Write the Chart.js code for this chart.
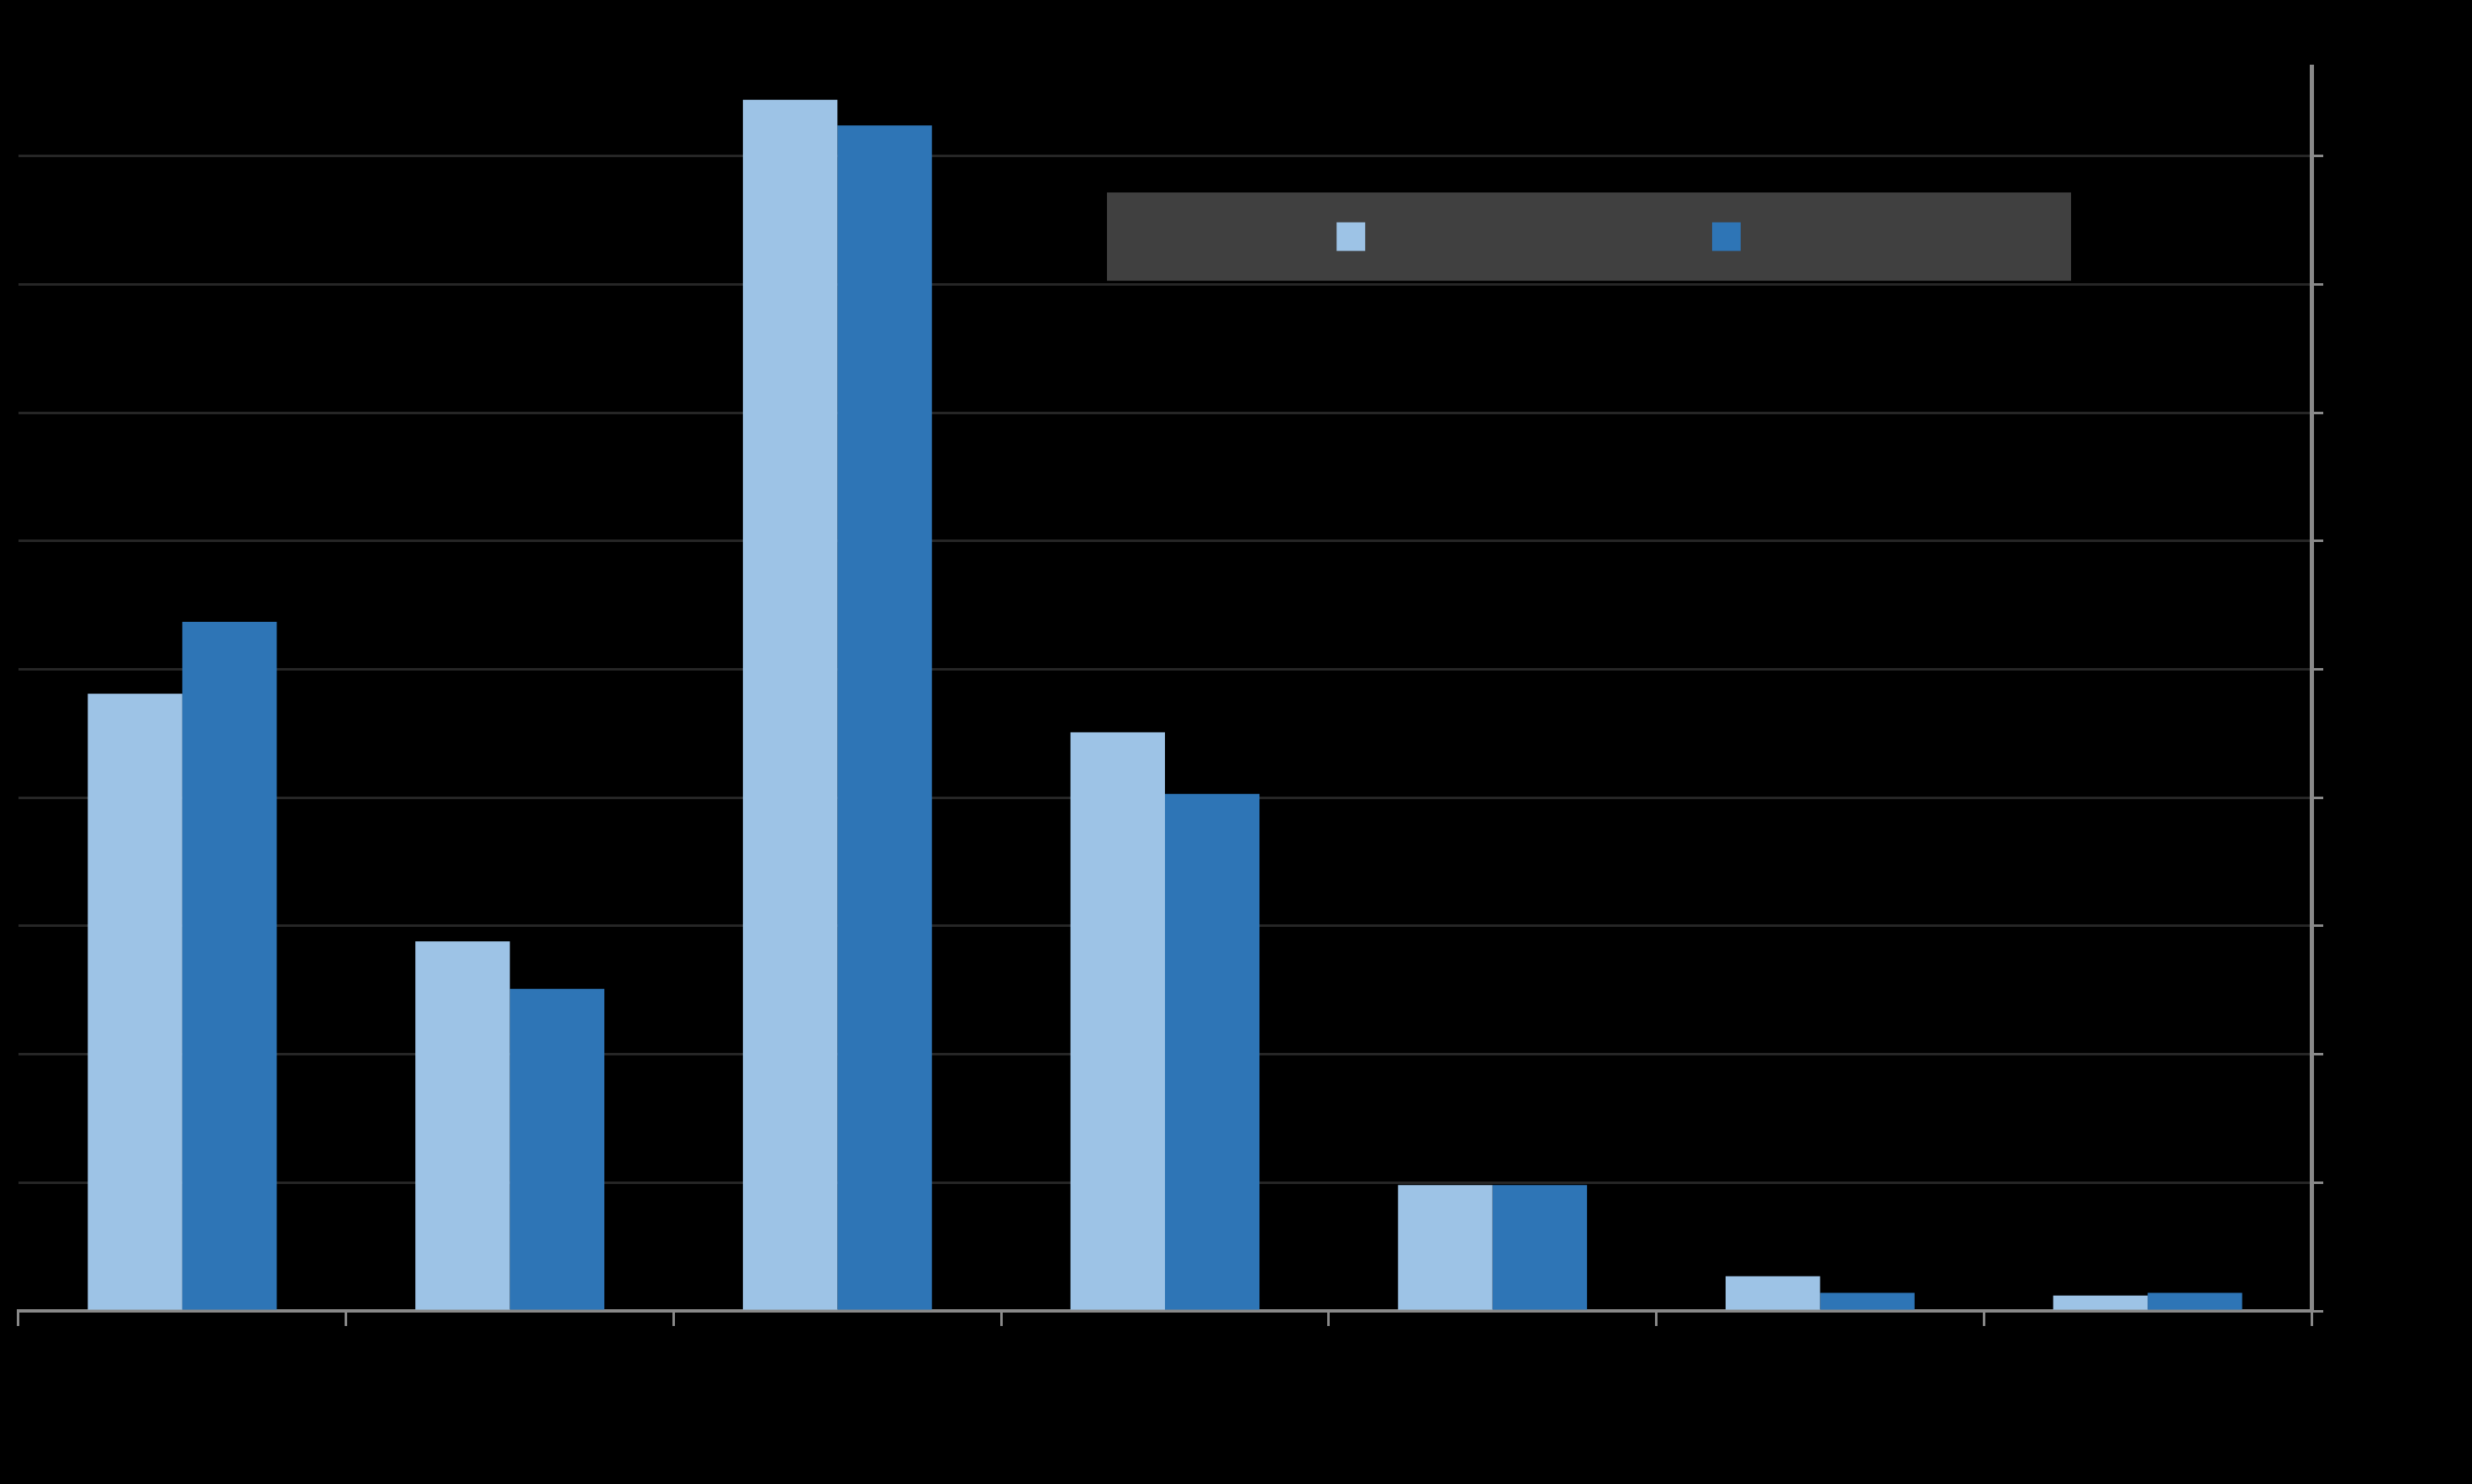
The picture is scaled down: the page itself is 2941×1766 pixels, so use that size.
<!DOCTYPE html>
<html>
<head>
<meta charset="utf-8">
<script src="https://cdn.jsdelivr.net/npm/chart.js@4/dist/chart.umd.min.js"></script>
<style>
  html, body { margin: 0; padding: 0; background: #000000; }
  #wrap { width: 2941px; height: 1766px; position: relative; }
</style>
</head>
<body>
<div id="wrap"><canvas id="myChart"></canvas></div>
<script>
// Werte (keine Beschriftungen sichtbar)
const categories = ["1", "2", "3", "4", "5", "6", "7"];
const seriesNames = ["Series 1", "Series 2"];
const seriesLight = [48.1, 28.8, 94.4, 45.1, 9.8, 2.7, 1.2];
const seriesDark = [53.7, 25.1, 92.4, 40.3, 9.8, 1.4, 1.4];
const yTicks = [0, 10, 20, 30, 40, 50, 60, 70, 80, 90];
const yMax = 97;

const axisGray = "#898989";
const gridGray = "#262626";

// Legende als Kasten im Diagramm
const boxLegend = {
    id: "boxLegend",
    afterDatasetsDraw(chart) {
        const ctx = chart.ctx;
        const w = chart.width;
        const h = chart.height;
        ctx.save();
        ctx.fillStyle = "#404040";
        ctx.fillRect(w * 0.4478, h * 0.1297, w * 0.39, h * 0.0595);
        const sw = 34;
        const ys = h * 0.1297 + (h * 0.0595 - sw) / 2;
        const xs = [w * 0.5407, w * 0.6926];
        chart.data.datasets.forEach(function(ds, i) {
            ctx.fillStyle = ds.backgroundColor;
            ctx.fillRect(xs[i], ys, sw, sw);
        });
        ctx.restore();
    }
};

const data = {
    labels: categories,
    datasets: [
        {
            label: seriesNames[0],
            data: seriesLight,
            backgroundColor: "#9DC3E6",
        },
        {
            label: seriesNames[1],
            data: seriesDark,
            backgroundColor: "#2E75B6",
        }
    ],
};

const config = {
    type: "bar",
    data: data,
    plugins: [boxLegend],
    options: {
        responsive: true,
        maintainAspectRatio: false,
        animation: false,
        datasets: {
            bar: {
                barPercentage: 1,
                categoryPercentage: 0.577,
            }
        },
        layout: {
            padding: { left: 22, right: 177, top: 79, bottom: 188 }
        },
        scales: {
            x: {
                grid: {
                    offset: true,
                    drawOnChartArea: false,
                    drawTicks: true,
                    tickLength: 18,
                    tickColor: axisGray,
                    tickWidth: 3,
                    color: axisGray,
                },
                border: {
                    color: axisGray,
                    width: 4,
                },
                ticks: { display: false },
            },
            y: {
                position: "right",
                min: 0,
                max: yMax,
                afterBuildTicks: function(scale) {
                    scale.ticks = yTicks.map(function(v) { return { value: v }; });
                },
                grid: {
                    color: function(c) {
                        return c.tick && c.tick.value === 0 ? "rgba(0,0,0,0)" : gridGray;
                    },
                    lineWidth: 3,
                    drawTicks: true,
                    tickLength: 14,
                    tickColor: axisGray,
                    tickWidth: 3,
                },
                border: {
                    color: axisGray,
                    width: 5,
                },
                ticks: { display: false, includeBounds: false },
            }
        },
        plugins: {
            legend: { display: false },
            tooltip: { enabled: false },
        },
        hover: { mode: null }
    }
};

const myChart = new Chart(document.getElementById("myChart"), config);
</script>
</body>
</html>
